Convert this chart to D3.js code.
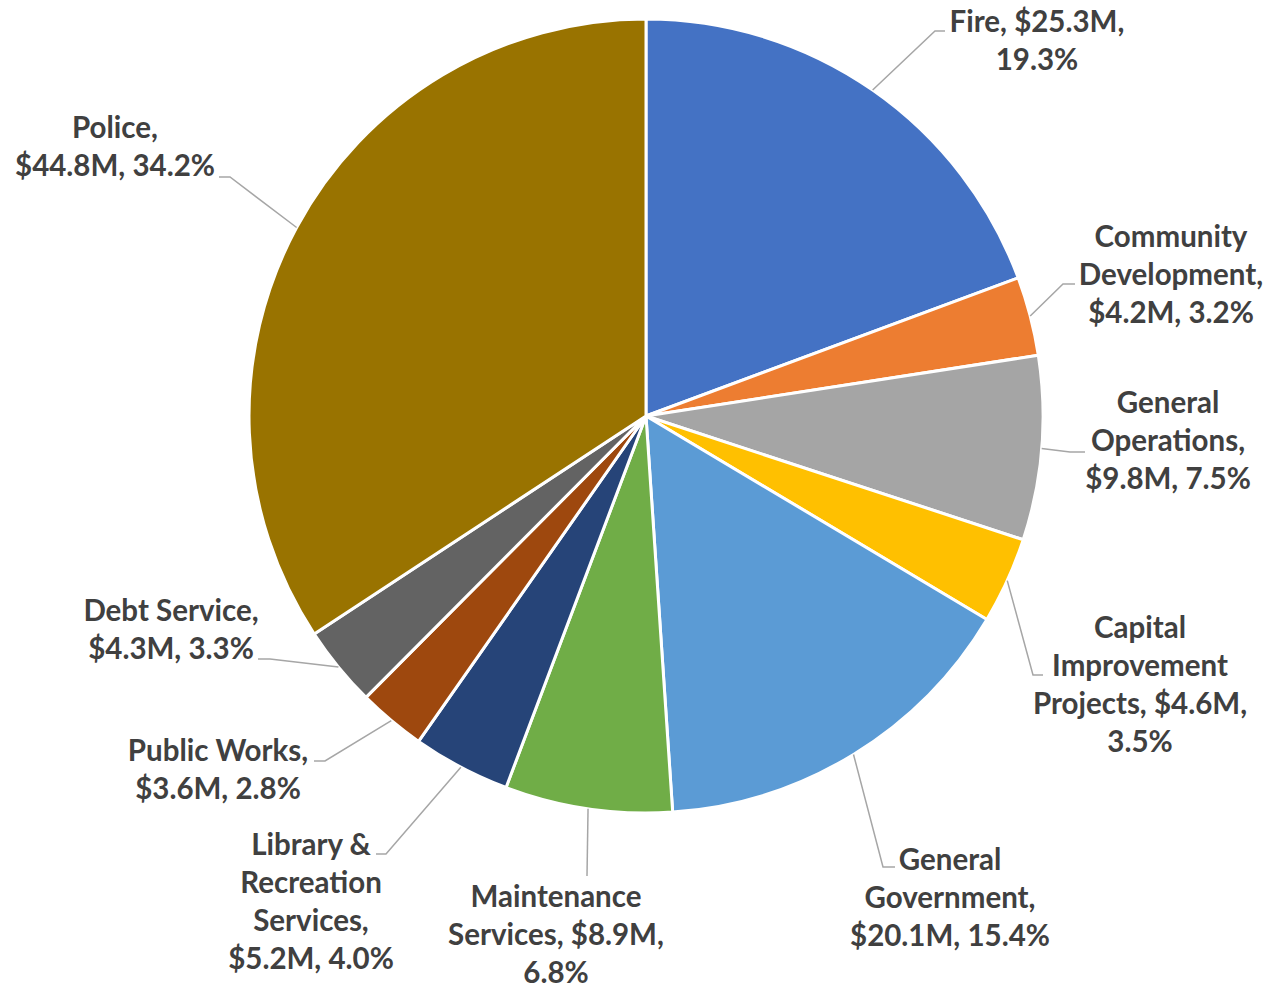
<!DOCTYPE html>
<html>
<head>
<meta charset="utf-8">
<script src="https://cdn.jsdelivr.net/npm/d3@7"></script>
<style>
  html, body { margin: 0; padding: 0; background: #ffffff; }
  svg { display: block; }
  .label { font-family: Lato, "Open Sans", sans-serif; font-weight: 700; fill: #404040; }
</style>
</head>
<body>
<svg id="chart" width="1278" height="985"></svg>
<script>
// Budget by department, in millions of dollars
const categories = [
  "Fire", "Community Development", "General Operations",
  "Capital Improvement Projects", "General Government",
  "Maintenance Services", "Library & Recreation Services",
  "Public Works", "Debt Service", "Police"
];
const values = [25.3, 4.2, 9.8, 4.6, 20.1, 8.9, 5.2, 3.6, 4.3, 44.8];
const shares = [19.3, 3.2, 7.5, 3.5, 15.4, 6.8, 4.0, 2.8, 3.3, 34.2];
const colors = [
  "#4472C4", "#ED7D31", "#A5A5A5", "#FFC000", "#5B9BD5",
  "#70AD47", "#264478", "#9E480E", "#636363", "#997300"
];

// Label placement: word counts per line, centre x, first baseline, leader elbow and end
const labelLayout = [
  { lines: [2, 1],       x: 1037, y: 32,  elbow: [935, 31],   end: [945, 31] },
  { lines: [1, 1, 2],    x: 1171, y: 247, elbow: [1063, 284], end: [1075, 284] },
  { lines: [1, 1, 2],    x: 1168, y: 413, elbow: [1070, 452], end: [1085, 452] },
  { lines: [1, 1, 2, 1], x: 1140, y: 638, elbow: [1033, 675], end: [1043, 675] },
  { lines: [1, 1, 2],    x: 950,  y: 870, elbow: [883, 867],  end: [895, 867] },
  { lines: [1, 2, 1],    x: 556,  y: 907, elbow: [587, 876],  end: [587, 876] },
  { lines: [2, 1, 1, 2], x: 311,  y: 855, elbow: [386, 854],  end: [376, 854] },
  { lines: [2, 2],       x: 218,  y: 761, elbow: [325, 761],  end: [314, 761] },
  { lines: [2, 2],       x: 171,  y: 621, elbow: [270, 659],  end: [258, 659] },
  { lines: [1, 2],       x: 115,  y: 138, elbow: [230, 177],  end: [219, 177] }
];

const lineHeight = 38;
const cx = 646, cy = 416, radius = 397;

const data = categories.map((name, i) => ({
  name, value: values[i], share: shares[i], color: colors[i], layout: labelLayout[i]
}));

const svg = d3.select("#chart");
const g = svg.append("g").attr("transform", `translate(${cx},${cy})`);

const pie = d3.pie().sort(null).value(d => d.value).startAngle(0).endAngle(2 * Math.PI);
const arcs = pie(data);

const arc = d3.arc().innerRadius(0).outerRadius(radius);
const edge = d3.arc().innerRadius(radius).outerRadius(radius);

// Slices
g.selectAll("path.slice")
  .data(arcs)
  .join("path")
  .attr("class", "slice")
  .attr("d", arc)
  .attr("fill", d => d.data.color)
  .attr("stroke", "#ffffff")
  .attr("stroke-width", 3)
  .attr("stroke-linejoin", "round");

// Leader lines from the slice rim to each label
g.selectAll("polyline.leader")
  .data(arcs)
  .join("polyline")
  .attr("class", "leader")
  .attr("points", d => {
    const [sx, sy] = edge.centroid(d);
    const L = d.data.layout;
    return [[sx, sy], [L.elbow[0] - cx, L.elbow[1] - cy], [L.end[0] - cx, L.end[1] - cy]]
      .map(p => p.join(",")).join(" ");
  })
  .attr("fill", "none")
  .attr("stroke", "#A6A6A6")
  .attr("stroke-width", 1.5);

// Labels: "Name, $X.XM, Y.Y%" broken into lines
function labelLines(d) {
  const words = `${d.name}, $${d.value.toFixed(1)}M, ${d.share.toFixed(1)}%`.split(" ");
  const out = [];
  let k = 0;
  d.layout.lines.forEach(n => { out.push(words.slice(k, k + n).join(" ")); k += n; });
  return out;
}

const labels = svg.selectAll("text.label")
  .data(data)
  .join("text")
  .attr("class", "label")
  .attr("font-size", 29.5)
  .attr("text-anchor", "middle");

labels.selectAll("tspan")
  .data(d => labelLines(d).map((t, i) => ({ t, i, L: d.layout })))
  .join("tspan")
  .attr("x", s => s.L.x)
  .attr("y", s => s.L.y + s.i * lineHeight)
  .text(s => s.t);
</script>
</body>
</html>
